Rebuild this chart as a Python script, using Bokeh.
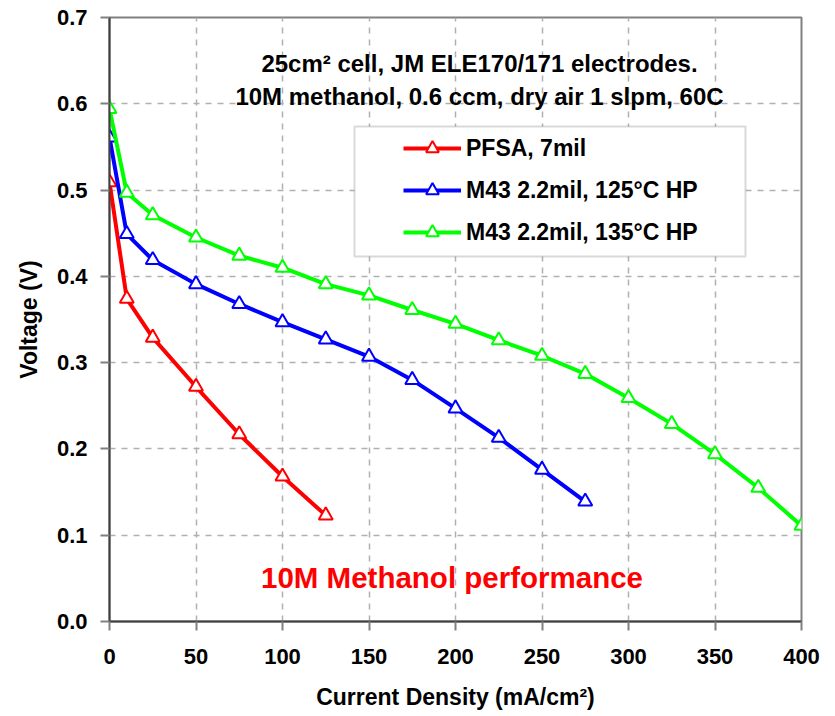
from bokeh.plotting import figure
from bokeh.models import (Range1d, FixedTicker, NumeralTickFormatter, Legend,
                          LegendItem, Label, BoxAnnotation)
from bokeh.embed import file_html
from bokeh.resources import INLINE

# Polarization data: current density (mA/cm²) vs cell voltage (V)
pfsa_i = [0, 10, 25, 50, 75, 100, 125]
pfsa_v = [0.509, 0.374, 0.329, 0.272, 0.217, 0.168, 0.123]

m43_125_i = [0, 10, 25, 50, 75, 100, 125, 150, 175, 200, 225, 250, 275]
m43_125_v = [0.561, 0.449, 0.419, 0.391, 0.368, 0.347, 0.327, 0.307, 0.280,
             0.247, 0.213, 0.176, 0.139]

m43_135_i = [0, 10, 25, 50, 75, 100, 125, 150, 175, 200, 225, 250, 275, 300,
             325, 350, 375, 400]
m43_135_v = [0.594, 0.497, 0.471, 0.445, 0.424, 0.410, 0.391, 0.378, 0.361,
             0.345, 0.326, 0.308, 0.287, 0.259, 0.229, 0.194, 0.155, 0.111]

series_names = ["PFSA, 7mil", "M43 2.2mil, 125°C HP", "M43 2.2mil, 135°C HP"]
series_colors = ["#ff0000", "#0000ff", "#00ff00"]

x_ticks = [0, 50, 100, 150, 200, 250, 300, 350, 400]
y_ticks = [0.0, 0.1, 0.2, 0.3, 0.4, 0.5, 0.6, 0.7]

FONT = "Liberation Sans"

p = figure(width=835, height=716, output_backend="svg", toolbar_location=None,
           x_range=Range1d(0, 400), y_range=Range1d(0, 0.7),
           min_border_left=109, min_border_right=34,
           min_border_top=17, min_border_bottom=95)
p.background_fill_color = "white"
p.border_fill_color = "white"
p.outline_line_color = "#808080"
p.outline_line_width = 2

# axes
for ax in (p.xaxis[0], p.yaxis[0]):
    ax.axis_line_color = "#404040"
    ax.axis_line_width = 2
    ax.major_tick_line_color = "#808080"
    ax.major_tick_line_width = 2
    ax.major_tick_out = 9
    ax.major_tick_in = 0
    ax.minor_tick_line_color = None
    ax.major_label_text_font = FONT
    ax.major_label_text_font_style = "bold"
    ax.major_label_text_font_size = "22px"
    ax.major_label_text_color = "black"
    ax.axis_label_text_font = FONT
    ax.axis_label_text_font_style = "bold"
    ax.axis_label_text_font_size = "23px"
    ax.axis_label_text_color = "black"

p.xaxis.ticker = FixedTicker(ticks=x_ticks)
p.yaxis.ticker = FixedTicker(ticks=y_ticks)
p.yaxis.formatter = NumeralTickFormatter(format="0.0")
p.xaxis.axis_label = "Current Density (mA/cm²)"
p.yaxis.axis_label = "Voltage (V)"
p.xaxis.major_label_standoff = 18
p.xaxis.axis_label_standoff = 17
p.yaxis.major_label_standoff = 13
p.yaxis.axis_label_standoff = 12

# dashed grid
for g in (p.xgrid[0], p.ygrid[0]):
    g.grid_line_color = "#b0b0b0"
    g.grid_line_width = 1.5
    g.grid_line_dash = "6 6"

x_scale = (801 - 109) / 400.0
y_scale = (621 - 17) / 0.7

# legend frame (white box over the grid)
p.add_layout(BoxAnnotation(left=(354 - 109) / x_scale, right=(745 - 109) / x_scale,
                           top=(621 - 126) / y_scale, bottom=(621 - 256) / y_scale,
                           fill_color="white", fill_alpha=1.0,
                           line_color="#808080", line_width=2))

items = []
for xs, ys, name, color in zip([pfsa_i, m43_125_i, m43_135_i],
                               [pfsa_v, m43_125_v, m43_135_v],
                               series_names, series_colors):
    ln = p.line(xs, ys, line_color=color, line_width=4)
    mk = p.scatter(xs, ys, marker="triangle", size=14, line_color=color,
                   line_width=2, fill_color="white")
    items.append(LegendItem(label=name, renderers=[ln, mk]))

legend = Legend(items=items, location=(284, 363), padding=10, spacing=10,
                glyph_width=58, glyph_height=32, label_height=32,
                label_standoff=5,
                label_text_font=FONT, label_text_font_style="bold",
                label_text_font_size="23px", label_text_color="black",
                border_line_alpha=0, background_fill_alpha=0)
p.add_layout(legend, "center")

# annotations
for txt, yb in [("25cm² cell, JM ELE170/171 electrodes.", 63),
                ("10M methanol, 0.6 ccm, dry air 1 slpm, 60C", 96)]:
    p.add_layout(Label(x=(479 - 109) / x_scale, y=(621 - yb) / y_scale, text=txt,
                       text_align="center", text_baseline="alphabetic",
                       text_font=FONT, text_font_style="bold",
                       text_font_size="24px", text_color="black"))

p.add_layout(Label(x=(451.5 - 109) / x_scale, y=(621 - 577) / y_scale,
                   text="10M Methanol performance",
                   text_align="center", text_baseline="alphabetic",
                   text_font=FONT, text_font_style="bold",
                   text_font_size="29.5px", text_color="#ff0000"))

open("out.html", "w").write(file_html(p, INLINE))
